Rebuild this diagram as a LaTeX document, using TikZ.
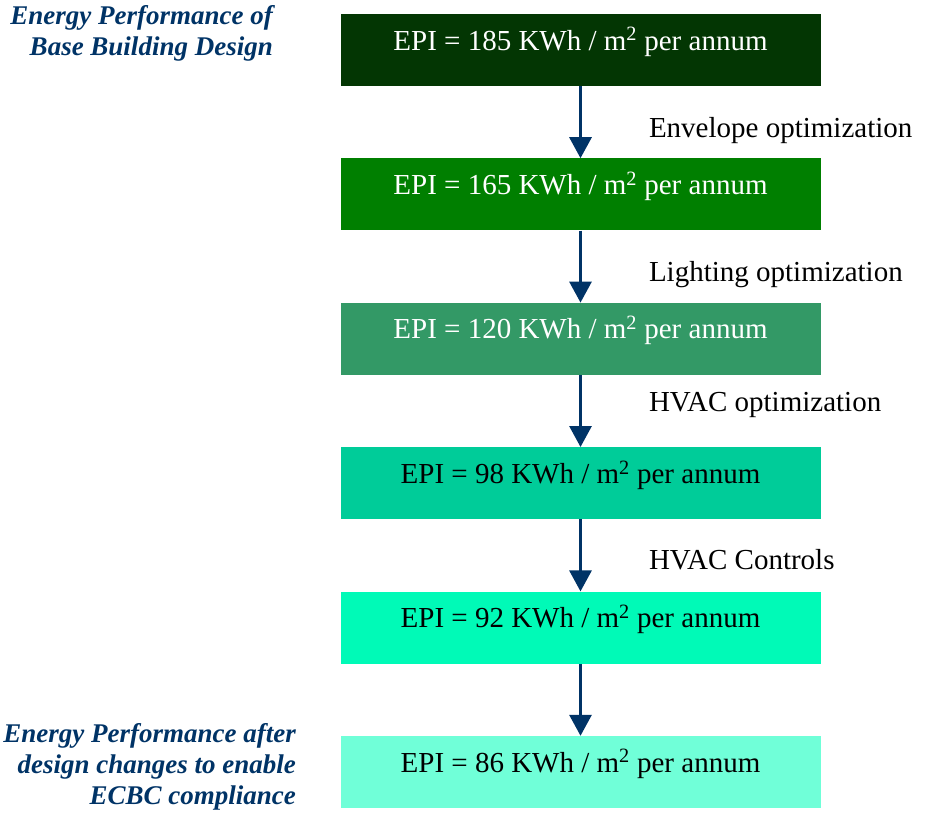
\documentclass[tikz,border=0pt]{standalone}
\usepackage{fontspec}
\setmainfont{Liberation Serif}
\usepackage{xcolor}
\usetikzlibrary{positioning, arrows.meta}

\definecolor{navy}{HTML}{003366}
\definecolor{epiA}{HTML}{033603}
\definecolor{epiB}{HTML}{007F00}
\definecolor{epiC}{HTML}{339966}
\definecolor{epiD}{HTML}{00CC99}
\definecolor{epiE}{HTML}{00FAB7}
\definecolor{epiF}{HTML}{70FFD8}

\begin{document}
\begin{tikzpicture}[
    node distance=72pt,
    epibox/.style={rectangle, minimum width=480pt, minimum height=72pt, inner sep=0pt, text height=22pt, text depth=22pt, font=\fontsize{29}{34}\selectfont},
    flow/.style={draw=navy, line width=3pt, -{Triangle[width=22pt, length=21pt]}},
    steplabel/.style={anchor=base west, xshift=67pt, inner sep=0pt, text=black, font=\fontsize{29}{34}\selectfont},
    note/.style={align=right, text=navy, inner sep=0pt, font=\fontsize{27}{31}\selectfont\bfseries\itshape}
]
    \useasboundingbox (0,0) rectangle (929pt,-812pt);

    % EPI boxes
    \node[epibox, fill=epiA, text=white] (box1) at (580.5pt,-50pt) {EPI = 185 KWh / m\textsuperscript{2} per annum};
    \node[epibox, fill=epiB, text=white] (box2) [below=of box1] {EPI = 165 KWh / m\textsuperscript{2} per annum};
    \node[epibox, fill=epiC, text=white] (box3) [below=of box2] {EPI = 120 KWh / m\textsuperscript{2} per annum};
    \node[epibox, fill=epiD] (box4) [below=of box3] {EPI = 98 KWh / m\textsuperscript{2} per annum};
    \node[epibox, fill=epiE] (box5) [below=of box4] {EPI = 92 KWh / m\textsuperscript{2} per annum};
    \node[epibox, fill=epiF] (box6) [below=of box5] {EPI = 86 KWh / m\textsuperscript{2} per annum};

    % Optimization steps
    \draw[flow] (box1) -- node[steplabel, yshift=-15pt] {Envelope optimization} (box2);
    \draw[flow] (box2) -- node[steplabel, yshift=-15pt] {Lighting optimization} (box3);
    \draw[flow] (box3) -- node[steplabel] {HVAC optimization} (box4);
    \draw[flow] (box4) -- node[steplabel, yshift=-14pt] {HVAC Controls} (box5);
    \draw[flow] (box5) -- (box6);

    % Side notes
    \node[note, anchor=north east] (base) at (273pt,-5pt) {Energy Performance of\\Base Building Design};
    \node[note, anchor=north east] (final) at (296pt,-723pt) {Energy Performance after\\design changes to enable\\ECBC compliance};

\end{tikzpicture}
\end{document}
